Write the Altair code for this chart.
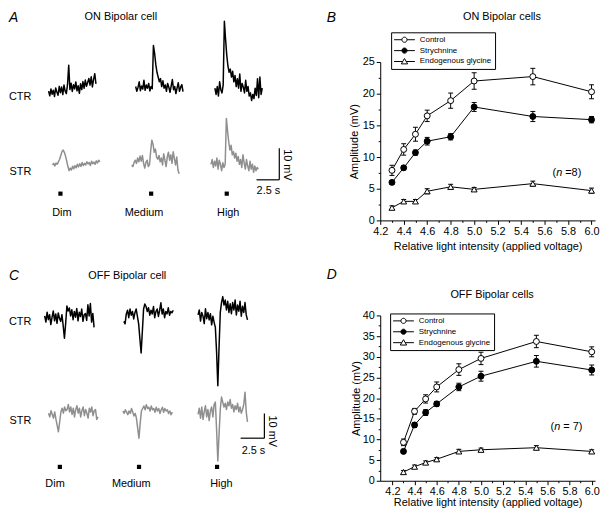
import altair as alt
import pandas as pd

FONT = "Liberation Sans"
DT = 0.13          # seconds between trace samples
SCALE_MV = 10      # scale bar, mV
SCALE_S = 2.5      # scale bar, s

# ---------------- Traces (mV relative to baseline, sampled every DT s) ----------------
ON_CTR_DIM = [0.5, -1.0, 1.2, -0.5, 0.8, -1.2, 1.5, 0.2, -0.8, 2.0, 0.0, 1.8, -0.6, 2.4, 0.5, -0.3, 2.6, 8.7, 1.0, 3.0,
              0.4, 2.5, 1.2, 3.4, 0.6, 2.2, -0.2, 2.8, 1.0, 3.5, 1.4, 4.0, 2.0, 3.2, 4.5, 2.4, 5.0, 1.8, 4.2, 6.0, 2.8]
ON_CTR_MEDIUM = [1.0, -0.5, 0.8, 2.5, -0.3, 1.2, 0.2, 3.0, -0.2, 1.5, 0.5, 2.0, -0.4, 1.0, 0.3, 14.0, 11.5, 8.0, 5.5, 4.0,
                 2.5, 3.5, 1.0, 2.8, 0.5, 1.5, -0.5, 2.0, 0.8, -0.8, 1.2, 3.2, 0.0, 1.0, -1.2, 0.6, 2.2, -0.5, 0.8, 1.6, -0.6]
ON_CTR_HIGH = [0.5, -1.5, 1.0, -2.0, 2.5, 0.0, -1.0, 1.5, 21.6, 16.0, 11.0, 7.5, 5.5, 6.5, 4.0, 5.8, 2.5, 4.5, 1.0, 3.5,
               0.5, 5.0, -0.5, 2.0, 0.8, -1.0, 3.0, -0.5, 1.0, -2.0, -1.0, -3.4, -1.5, -2.8, 0.5, -1.8, 3.5, -2.5, 4.0, -1.5, 0.5]
ON_STR_DIM = [0.0, 0.5, -0.3, 0.6, 0.2, 1.0, 1.8, 3.0, 4.2, 4.7, 4.0, 2.8, 1.2, -0.5, -1.8, -1.0, -1.6, -0.4, -1.2, -0.2,
              -0.9, 0.2, -0.6, 0.4, -0.5, 0.8, -0.2, 0.5, 0.0, 1.0, 0.3, 0.8, -0.2, 1.2, 0.4, 0.9, 0.2, 1.3, 0.6, 1.5, 1.0]
ON_STR_MEDIUM = [0.0, -0.5, 0.8, 1.5, 0.5, 2.2, 1.0, 2.8, 1.2, 3.0, 0.5, -1.0, 0.8, 1.5, -0.5, 0.2, 4.5, 7.8, 6.5, 4.0,
                 5.0, 2.5, 1.8, 3.0, 1.0, 2.2, 0.0, 3.5, 1.5, -0.5, 2.5, 4.0, 1.5, 3.2, 0.5, 4.2, 2.0, 0.0, 2.5, -1.5, -2.8]
ON_STR_HIGH = [0.5, 2.0, -0.5, 1.5, 0.0, 2.5, -1.0, 1.8, 0.5, -1.5, 1.0, -0.5, 0.5, 15.0, 11.0, 7.5, 5.0, 6.5, 3.5, 4.5,
               2.5, 4.0, 1.5, 3.0, 0.5, 2.0, -0.5, 3.5, 1.0, -1.0, 2.0, 0.0, -1.5, 1.5, -1.0, 0.5, -2.0, 0.0, -1.5, -0.5, -1.0]

OFF_CTR_DIM = [1.0, -1.5, 2.5, -0.5, 1.5, -2.5, 0.5, 3.0, -1.0, 1.8, -2.0, 2.2, 0.0, -1.2, 1.5, -3.0, -8.0, -2.0, 5.0, 3.0,
               4.2, 1.0, 3.5, -0.5, 2.8, 0.5, 4.0, -1.0, 2.5, 0.8, 3.8, -1.2, 1.5, 2.0, -0.8, 5.5, 1.0, 6.0, -1.5, 2.0, -3.6]
OFF_CTR_MEDIUM = [-2.0, -3.0, 1.0, 2.5, -0.5, 3.0, 0.5, 2.0, -1.0, 1.5, 3.0, 0.0, -3.0, -9.0, -14.8, -6.0, 3.0, 5.0, 4.0, 2.0,
                  3.5, 0.5, 2.5, 1.0, 4.0, -0.5, 2.0, 3.0, 0.0, 2.5, 5.5, 1.0, 3.0, -0.5, 2.0, 1.0, 3.5, 0.5, 2.0, 1.5, 2.5]
OFF_CTR_HIGH = [1.0, 3.0, -1.5, 2.0, 0.5, -2.5, 3.5, -0.5, 2.0, -1.0, 1.5, -3.0, 0.5, -2.0, -4.0, -14.0, -27.6, -12.0, 2.0, 6.0,
                8.4, 5.0, 7.0, 3.0, 6.5, 2.0, 5.5, 1.5, 6.0, 3.0, 7.0, 1.0, 5.0, 2.5, 6.5, 0.5, 4.5, 2.0, 6.0, 1.0, -1.0]
OFF_STR_DIM = [0.5, -1.0, 1.5, 0.0, -1.5, 1.0, -2.0, -4.5, -7.0, -3.0, 1.0, 2.5, 0.5, 3.0, 1.5, 2.0, 4.0, 1.0, 3.0, 0.0,
               2.5, -1.0, 2.0, 3.5, 0.5, 2.5, -1.0, 1.5, 3.0, -0.5, 2.0, 0.5, -1.5, 2.5, 1.0, 3.0, -0.5, 1.5, 2.0, -2.0, -1.0]
OFF_STR_MEDIUM = [1.0, 0.0, 1.5, 0.5, -0.5, 1.0, 0.0, 2.0, 0.5, -1.0, 0.0, -2.0, -6.0, -10.0, -4.0, 1.0, 2.0, 3.0, 1.5, 3.5,
                  2.0, 2.5, 1.0, 3.0, 1.5, 2.0, 0.5, 2.5, 1.0, 2.0, 0.0, 1.5, 2.5, 0.5, 2.0, 1.0, 1.5, 0.0, 1.0, -0.5, 0.5]
OFF_STR_HIGH = [0.0, 2.5, -1.5, 3.0, -2.0, 1.0, 3.5, -1.0, 2.0, -2.5, 1.5, 3.0, -1.0, 4.0, 5.0, -6.0, -18.8, -8.0, 2.0, 7.0,
                5.0, 3.0, 4.5, 2.0, 5.0, 3.5, 6.0, 2.5, 4.0, 1.0, 3.5, 2.0, 4.5, 1.0, 3.0, 0.5, 2.0, 4.0, 9.0, 1.0, -3.0]

LEVELS = ["Dim", "Medium", "High"]
ROWS = ["CTR", "STR"]
ON_STIM_ONSET = [1.3, 1.7, 1.3]    # s after trace start
OFF_STIM_ONSET = [1.6, 1.6, 2.0]

# ---------------- Intensity-response data ----------------
INTENSITY = [4.3, 4.4, 4.5, 4.6, 4.8, 5.0, 5.5, 6.0]
SERIES = ["Control", "Strychnine", "Endogenous glycine"]

ON_CONTROL = [7.9, 11.2, 13.6, 16.5, 18.9, 22.0, 22.7, 20.3]
ON_CONTROL_SEM = [0.8, 0.9, 1.1, 0.9, 1.2, 1.3, 1.3, 1.1]
ON_STRYCHNINE = [6.0, 8.3, 10.7, 12.5, 13.2, 17.9, 16.4, 15.9]
ON_STRYCHNINE_SEM = [0.3, 0.3, 0.4, 0.6, 0.5, 0.7, 0.8, 0.5]
ON_GLYCINE = [2.0, 3.0, 3.0, 4.6, 5.3, 4.9, 5.8, 4.7]
ON_GLYCINE_SEM = [0.3, 0.3, 0.3, 0.4, 0.4, 0.3, 0.4, 0.4]

OFF_CONTROL = [9.3, 16.8, 19.8, 22.7, 26.9, 29.6, 33.7, 31.2]
OFF_CONTROL_SEM = [0.8, 0.7, 1.0, 1.2, 1.4, 1.5, 1.5, 1.2]
OFF_STRYCHNINE = [7.1, 13.5, 16.5, 18.6, 22.7, 25.3, 28.9, 26.8]
OFF_STRYCHNINE_SEM = [0.5, 0.6, 0.7, 0.6, 0.9, 1.2, 1.4, 1.2]
OFF_GLYCINE = [2.1, 3.4, 4.4, 5.2, 7.1, 7.5, 8.0, 7.1]
OFF_GLYCINE_SEM = [0.4, 0.4, 0.4, 0.4, 0.5, 0.4, 0.5, 0.4]

X_TICKS = [round(4.2 + 0.1 * i, 1) for i in range(19)]


def lookup(field, mapping):
    expr = "0"
    for k, v in mapping.items():
        expr = f"(datum.{field} == '{k}' ? {v} : {expr})"
    return expr


def text_mark(txt, x, y, size=11, style="normal", align="center", baseline="middle", angle=0):
    props = dict(text=txt, font=FONT, fontSize=size, fontStyle=style, align=align,
                 baseline=baseline, color="black")
    if angle:
        props["angle"] = angle
    return alt.Chart(pd.DataFrame({"k": [0]})).mark_text(**props).encode(
        x=alt.value(x), y=alt.value(y))


def trace_panel(traces, t0, v0, onsets, stim_v, level_t, row_v, px_s, px_mv, width, height,
                bar_t, bar_v, label_pad, texts):
    recs = []
    for (row, level), vals in traces.items():
        for i, v in enumerate(vals):
            recs.append({"row": row, "level": level, "key": f"{row}|{level}",
                         "t": round(i * DT, 3), "v": v})
    df = pd.DataFrame(recs)
    xs = alt.Scale(domain=[0, width / px_s], nice=False, zero=False)
    ys = alt.Scale(domain=[-height / px_mv, 0], nice=False, zero=False)
    m1 = (level_t[0] + level_t[1]) / 2
    m2 = (level_t[1] + level_t[2]) / 2
    x_axis = alt.Axis(values=level_t,
                      labelExpr=f"datum.value < {m1} ? 'Dim' : (datum.value < {m2} ? 'Medium' : 'High')",
                      domain=False, ticks=False, tickSize=0, grid=False, labelPadding=label_pad,
                      labelFlush=False, labelOverlap=False, title=None, labelFontSize=11)
    ym = (row_v[0] + row_v[1]) / 2
    y_axis = alt.Axis(values=row_v, labelExpr=f"datum.value > {ym} ? 'CTR' : 'STR'",
                      domain=False, ticks=False, tickSize=0, grid=False, labelPadding=10,
                      labelOverlap=False, title=None, labelFontSize=11)

    def X(f):
        return alt.X(f, type="quantitative", scale=xs, axis=x_axis)

    def Y(f):
        return alt.Y(f, type="quantitative", scale=ys, axis=y_axis)

    lines = alt.Chart(df).transform_calculate(
        x="datum.t + " + lookup("key", t0), y="datum.v + " + lookup("key", v0)
    ).mark_line(strokeWidth=1.5, strokeJoin="round").encode(
        x=X("x"), y=Y("y"),
        color=alt.Color("row:N", scale=alt.Scale(domain=ROWS, range=["#000000", "#8f8f8f"]), legend=None),
        detail="key:N")

    stim_df = pd.DataFrame({"level": LEVELS, "onset": onsets})
    stim = alt.Chart(stim_df).transform_calculate(
        x="datum.onset + " + lookup("level", {lv: t0[f"CTR|{lv}"] for lv in LEVELS}),
        y=str(stim_v)
    ).mark_square(size=18, color="black", opacity=1).encode(x=X("x"), y=Y("y"))

    bar_df = pd.DataFrame({"t_end": [bar_t], "t_start": [bar_t - SCALE_S],
                           "v_low": [bar_v], "v_high": [bar_v + SCALE_MV]})
    vbar = alt.Chart(bar_df).mark_rule(color="black", strokeWidth=1.2).encode(
        x=X("t_end"), y=Y("v_low"), y2="v_high:Q")
    hbar = alt.Chart(bar_df).mark_rule(color="black", strokeWidth=1.2).encode(
        x=X("t_start"), x2="t_end:Q", y=Y("v_low"))

    layers = [lines, stim, vbar, hbar] + texts
    return alt.layer(*layers).properties(width=width, height=height)


LEG_CIRCLE = "M-2.625,0L-0.65,0M0.65,0L2.625,0M-0.65,0A0.65,0.65,0,1,0,0.65,0A0.65,0.65,0,1,0,-0.65,0Z"
LEG_TRIANGLE = "M-2.625,0L-0.444,0M0.444,0L2.625,0M0,-0.75L0.8,0.6L-0.8,0.6Z"


def response_panel(ctrl, ctrl_e, stry, stry_e, gly, gly_e, xmin, ymax, width, height,
                   x_title_pad, y_title_pad, leg_x, leg_y, texts):
    recs = []
    for name, vals, errs in [(SERIES[0], ctrl, ctrl_e), (SERIES[1], stry, stry_e), (SERIES[2], gly, gly_e)]:
        for x, v, e in zip(INTENSITY, vals, errs):
            recs.append({"intensity": x, "series": name, "amp": v, "sem": e})
    df = pd.DataFrame(recs)
    minor_x = "abs(datum.value*10 - 2*round(datum.value*5)) > 0.5"
    x_axis = alt.Axis(values=X_TICKS,
                      labelExpr=f"{minor_x} ? '' : format(datum.value, '.1f')",
                      tickSize={"condition": {"test": minor_x, "value": 2}, "value": 4},
                      labelPadding=1, labelFlush=False, labelOverlap=False,
                      title="Relative light intensity (applied voltage)", titlePadding=x_title_pad)
    y_vals = [i * 2.5 for i in range(int(ymax / 2.5) + 1)]
    minor_y = "abs(datum.value/5 - round(datum.value/5)) > 0.1"
    y_axis = alt.Axis(values=y_vals,
                      labelExpr=f"{minor_y} ? '' : format(datum.value, 'd')",
                      tickSize={"condition": {"test": minor_y, "value": 2}, "value": 4},
                      labelPadding=2, labelFlush=False, labelOverlap=False,
                      title="Amplitude (mV)", titlePadding=y_title_pad)
    xs = alt.Scale(domain=[xmin, 6.03], nice=False, zero=False)
    ys = alt.Scale(domain=[0, ymax], nice=False, zero=False)

    def X():
        return alt.X("intensity:Q", scale=xs, axis=x_axis)

    def Y(f="amp"):
        return alt.Y(f"{f}:Q", scale=ys, axis=y_axis)

    base = alt.Chart(df).transform_calculate(lo="datum.amp - datum.sem", hi="datum.amp + datum.sem")
    line = base.mark_line(color="black", strokeWidth=1).encode(x=X(), y=Y(), detail="series:N")
    err = base.mark_rule(color="black", strokeWidth=1).encode(x=X(), y=Y("lo"), y2="hi:Q")
    cap_lo = base.mark_tick(orient="horizontal", size=5, thickness=1, color="black", opacity=1).encode(x=X(), y=Y("lo"))
    cap_hi = base.mark_tick(orient="horizontal", size=5, thickness=1, color="black", opacity=1).encode(x=X(), y=Y("hi"))
    fills = ["white", "black", "white"]
    pts = base.mark_point(size=36, stroke="black", strokeWidth=1, opacity=1).encode(
        x=X(), y=Y(),
        shape=alt.Shape("series:N", scale=alt.Scale(domain=SERIES, range=["circle", "circle", "triangle-up"]), legend=None),
        fill=alt.Fill("series:N", scale=alt.Scale(domain=SERIES, range=fills), legend=None))
    leg = alt.Legend(orient="none", legendX=leg_x, legendY=leg_y, title=None, padding=3, rowPadding=0,
                     symbolSize=64, symbolStrokeWidth=1, symbolStrokeColor="black",
                     strokeColor="black", fillColor="white", labelFontSize=8, labelFont=FONT,
                     labelColor="black", symbolOffset=6, labelOffset=11, cornerRadius=0,
                     labelExpr="datum.label + '\u00a0\u00a0\u00a0\u00a0\u00a0\u00a0'")
    legend_layer = base.transform_filter("false").mark_point(
        stroke="black", size=64, strokeWidth=1, opacity=1).encode(
        x=X(), y=Y(),
        shape=alt.Shape("series:N", scale=alt.Scale(domain=SERIES, range=[LEG_CIRCLE, LEG_CIRCLE, LEG_TRIANGLE]), legend=leg),
        fill=alt.Fill("series:N", scale=alt.Scale(domain=SERIES, range=fills), legend=leg),
        stroke=alt.Stroke("series:N", scale=alt.Scale(domain=SERIES, range=["black", "black", "black"]), legend=leg))
    return alt.layer(line, err, cap_lo, cap_hi, pts, legend_layer, *texts).resolve_scale(
        shape="independent", fill="independent", stroke="independent").properties(width=width, height=height)


# ---------------- Panel A ----------------
A_T0 = {"CTR|Dim": 0.87, "CTR|Medium": 10.43, "CTR|High": 19.13,
        "STR|Dim": 1.30, "STR|Medium": 10.0, "STR|High": 18.7}
A_V0 = {"CTR|Dim": -9.69, "CTR|Medium": -8.75, "CTR|High": -8.75,
        "STR|Dim": -32.5, "STR|Medium": -32.5, "STR|High": -32.8}
panel_a = trace_panel(
    {("CTR", "Dim"): ON_CTR_DIM, ("CTR", "Medium"): ON_CTR_MEDIUM, ("CTR", "High"): ON_CTR_HIGH,
     ("STR", "Dim"): ON_STR_DIM, ("STR", "Medium"): ON_STR_MEDIUM, ("STR", "High"): ON_STR_HIGH},
    A_T0, A_V0, ON_STIM_ONSET, -41.56, [2.28, 11.3, 20.54], [-10.94, -34.69],
    9.2, 3.2, 323, 145, 26.2, -37.19, 1.5,
    [text_mark("A", -32, -51, size=14, style="italic", align="left", baseline="top"),
     text_mark("ON Bipolar cell", 81, -45),
     text_mark("10 mV", 249, 104, angle=90),
     text_mark("2.5 s", 230, 130)])

# ---------------- Panel C ----------------
C_T0 = {"CTR|Dim": 0.42, "CTR|Medium": 8.75, "CTR|High": 16.56,
        "STR|Dim": 0.83, "STR|Medium": 8.65, "STR|High": 16.56}
C_V0 = {"CTR|Dim": -1.2, "CTR|Medium": -0.4, "CTR|High": -0.8,
        "STR|Dim": -40.0, "STR|Medium": -39.6, "STR|High": -40.0}
panel_c = trace_panel(
    {("CTR", "Dim"): OFF_CTR_DIM, ("CTR", "Medium"): OFF_CTR_MEDIUM, ("CTR", "High"): OFF_CTR_HIGH,
     ("STR", "Dim"): OFF_STR_DIM, ("STR", "Medium"): OFF_STR_MEDIUM, ("STR", "High"): OFF_STR_HIGH},
    C_T0, C_V0, OFF_STIM_ONSET, -61.2, [1.46, 9.48, 18.96], [-2.4, -42.4],
    9.6, 2.5, 323, 159, 23.54, -49.6, 4.5,
    [text_mark("C", -32, -47, size=14, style="italic", align="left", baseline="top"),
     text_mark("OFF Bipolar cell", 87.5, -40),
     text_mark("10 mV", 234, 117, angle=90),
     text_mark("2.5 s", 215, 137)])

# ---------------- Panel B ----------------
panel_b = response_panel(
    ON_CONTROL, ON_CONTROL_SEM, ON_STRYCHNINE, ON_STRYCHNINE_SEM, ON_GLYCINE, ON_GLYCINE_SEM,
    4.2, 25, 217, 160, 4.5, 3, 11, -30,
    [text_mark("B", -54, -51, size=14, style="italic", align="left", baseline="top"),
     text_mark("ON Bipolar cells", 123, -45.5),
     text_mark("(", 174, 112, align="left"),
     text_mark("n", 177.7, 112, style="italic", align="left"),
     text_mark("=8)", 186.9, 112, align="left")])

# ---------------- Panel D ----------------
panel_d = response_panel(
    OFF_CONTROL, OFF_CONTROL_SEM, OFF_STRYCHNINE, OFF_STRYCHNINE_SEM, OFF_GLYCINE, OFF_GLYCINE_SEM,
    4.09, 40, 217, 167, 0.5, 1, 10, -2,
    [text_mark("D", -54, -48, size=14, style="italic", align="left", baseline="top"),
     text_mark("OFF Bipolar cells", 113, -21),
     text_mark("(", 172, 113, align="left"),
     text_mark("n", 175.7, 113, style="italic", align="left"),
     text_mark("= 7)", 184.9, 113, align="left")])

chart = alt.concat(
    panel_a, panel_b, panel_c, panel_d,
    columns=2, spacing={"row": 96, "column": 20}, bounds="flush", align="each", padding=0
).configure_view(strokeWidth=0).configure_axis(
    labelFont=FONT, titleFont=FONT, labelColor="black", titleColor="black",
    domainColor="black", tickColor="black", domainWidth=1, tickWidth=1,
    labelFontSize=11, titleFontSize=11, titleFontWeight="normal", grid=False
).configure_legend(labelFont=FONT).configure_text(font=FONT)

chart.save("out.html", embed_options={"renderer": "svg", "actions": False})
